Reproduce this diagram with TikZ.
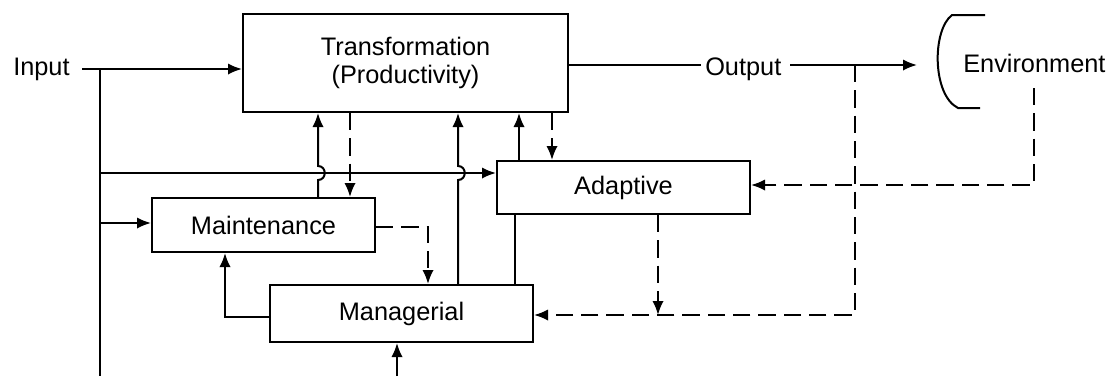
\documentclass[tikz,border=0pt]{standalone}
\usepackage{fontspec}
\setmainfont{Liberation Sans}
\usetikzlibrary{arrows.meta}
\begin{document}
\begin{tikzpicture}[x=0.75pt,y=-0.75pt,
  txt/.style={font=\fontsize{19}{21}\selectfont},
  box/.style={draw, line width=1.5pt, inner sep=0pt, txt},
  lbl/.style={inner sep=0pt, txt},
  ln/.style={line width=1.5pt},
  arr/.style={ln, -{Latex[length=10.5pt,width=8.5pt]}},
  dsh/.style={ln, dash pattern=on 13pt off 6pt},
  darr/.style={dsh, -{Latex[length=10.5pt,width=8.5pt]}},
]
\useasboundingbox (0,0) rectangle (1110,376);
% boxes
\node[box, minimum width=243.75pt, minimum height=73.5pt, align=center] (trans) at (405.5,63) {Transformation\\(Productivity)};
\node[box, minimum width=189.75pt, minimum height=39.75pt] (adapt) at (623.5,187.5) {Adaptive};
\node[box, minimum width=167.25pt, minimum height=40.5pt] (maint) at (263.5,225) {Maintenance};
\node[box, minimum width=197.25pt, minimum height=42.75pt] (manag) at (401.5,313.5) {Managerial};
% labels
\node[lbl, anchor=base west] (input) at (13,75) {Input};
\node[lbl, anchor=base west] (output) at (705,75) {Output};
\node[lbl, anchor=base west] (env) at (963,72) {Environment};
% coordinates
\coordinate (inl) at (82,69);
\coordinate (j1) at (100,69);
\coordinate (bot1) at (100,376);
\coordinate (j2) at (100,173);
\coordinate (j3) at (100,223);
\coordinate (bot2) at (397,376);
\coordinate (outa) at (701,65);
\coordinate (outb) at (790,65);
\coordinate (outtip) at (917,65);
\coordinate (fb) at (855,65);
\coordinate (envb) at (1034,88);
% input lines
\draw[arr] (inl) -- (trans.west |- inl);
\draw[ln] (j1) -- (bot1);
\draw[arr] (j2) -- (adapt.west |- j2);
\draw[arr] (j3) -- (maint.west |- j3);
% maintenance <-> transformation
\draw[arr] (318,0 |- maint.north) -- (318,180) .. controls (327,180) and (327,166) .. (318,166) -- (318,0 |- trans.south);
\draw[darr] (350,0 |- trans.south) -- (350,0 |- maint.north);
% managerial -> transformation
\draw[arr] (458,0 |- manag.north) -- (458,180) .. controls (467,180) and (467,166) .. (458,166) -- (458,0 |- trans.south);
% adaptive <-> transformation
\draw[arr] (519,0 |- adapt.north) -- (519,0 |- trans.south);
\draw[darr] (552,0 |- trans.south) -- (552,0 |- adapt.north);
% adaptive -- managerial
\draw[ln] (515,0 |- adapt.south) -- (515,0 |- manag.north);
% maintenance -> managerial (dashed)
\draw[darr] (maint.east |- 0,227) -| (428,0 |- manag.north);
% managerial -> maintenance
\draw[arr] (manag.west |- 0,317) -| (225,0 |- maint.south);
% bottom input to managerial
\draw[arr] (bot2) -- (bot2 |- manag.south);
% output
\draw[ln] (trans.east |- outa) -- (outa);
\draw[arr] (outb) -- (outtip);
% feedback
\draw[darr] (fb) |- (manag.east |- 0,315);
\draw[darr] (envb) |- (adapt.east |- 0,185);
\draw[darr] (658,0 |- adapt.south) -- (658,315);
% environment bracket
\draw[ln] (985,15) -- (952,15) .. controls (932,30) and (932,95) .. (958,108) -- (980,108);
\end{tikzpicture}
\end{document}
